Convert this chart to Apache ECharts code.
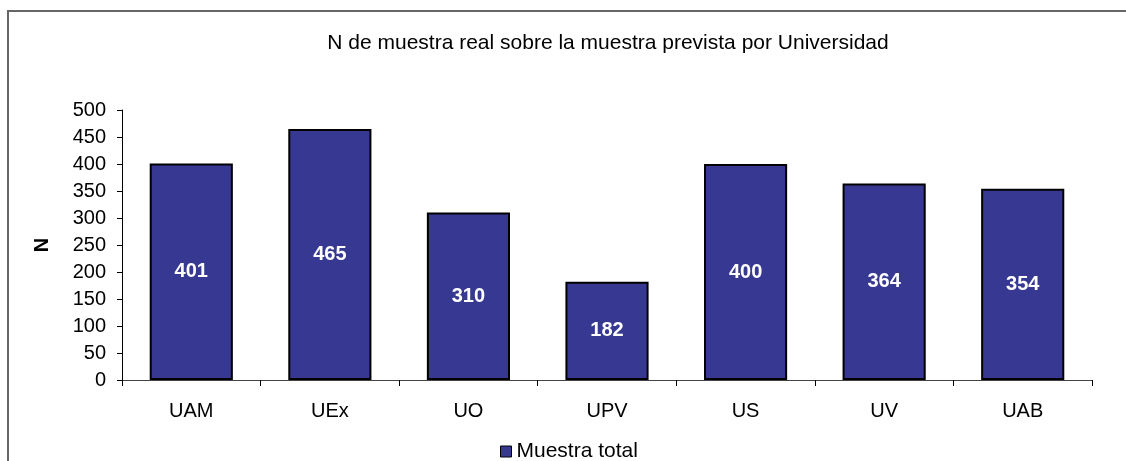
<!DOCTYPE html>
<html>
<head>
<meta charset="utf-8">
<script src="https://cdn.jsdelivr.net/npm/echarts@6/dist/echarts.min.js"></script>
<style>
  html, body { margin: 0; padding: 0; background: #fff; }
  #chart { width: 1126px; height: 461px; }
</style>
</head>
<body>
<div id="chart"></div>
<script>
const universidades = ['UAM', 'UEx', 'UO', 'UPV', 'US', 'UV', 'UAB'];
const muestraTotal = [401, 465, 310, 182, 400, 364, 354];
const yTicks = [0, 50, 100, 150, 200, 250, 300, 350, 400, 450, 500];

const chartDom = document.getElementById('chart');
const myChart = echarts.init(chartDom);
const font = 'Liberation Sans, Arial, sans-serif';

const option = {
    animation: false,
    textStyle: { fontFamily: font },
    title: {
        text: 'N de muestra real sobre la muestra prevista por Universidad',
        left: 603,
        textAlign: 'center',
        top: 28,
        textStyle: { fontSize: 21, fontWeight: 'normal', color: '#000', fontFamily: font }
    },
    graphic: [
        {
            type: 'polyline',
            shape: { points: [[8, 461], [8, 11], [1126, 11]] },
            style: { stroke: '#666', lineWidth: 2, fill: null }
        }
    ],
    legend: {
        data: ['Muestra total'],
        left: 495,
        top: 436,
        itemWidth: 11,
        itemHeight: 11,
        itemGap: 6,
        icon: 'rect',
        textStyle: { fontSize: 21, color: '#000', fontFamily: font },
        itemStyle: { borderColor: '#000', borderWidth: 1 }
    },
    grid: {
        left: 122,
        right: 34,
        top: 110,
        bottom: 81,
        containLabel: false
    },
    xAxis: {
        type: 'category',
        data: universidades,
        axisLine: { lineStyle: { color: '#444', width: 1 } },
        axisTick: { show: true, length: 6, lineStyle: { color: '#000' } },
        axisLabel: { fontSize: 20, color: '#000', margin: 21 }
    },
    yAxis: {
        type: 'value',
        min: yTicks[0],
        max: yTicks[yTicks.length - 1],
        interval: 50,
        name: 'N',
        nameLocation: 'middle',
        nameGap: 70,
        nameRotate: 90,
        nameTextStyle: { fontSize: 20, fontWeight: 'bold', color: '#000' },
        axisLine: { show: true, lineStyle: { color: '#000', width: 1 } },
        axisTick: { show: true, length: 5, lineStyle: { color: '#000' } },
        axisLabel: { fontSize: 20, color: '#000', margin: 16 },
        splitLine: { show: false }
    },
    series: [
        {
            name: 'Muestra total',
            type: 'bar',
            data: muestraTotal,
            barWidth: '60%',
            itemStyle: { color: '#363891', borderColor: '#000', borderWidth: 2 },
            label: {
                show: true,
                position: 'inside',
                color: '#fff',
                fontSize: 20,
                fontWeight: 'bold',
                fontFamily: font
            }
        }
    ]
};

myChart.setOption(option);

window.addEventListener('resize', () => {
    myChart.resize();
});
</script>
</body>
</html>
